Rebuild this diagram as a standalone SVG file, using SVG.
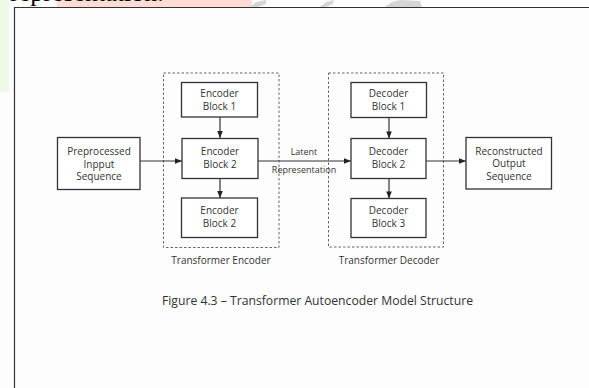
<svg xmlns="http://www.w3.org/2000/svg" width="589" height="388" viewBox="0 0 589 388">
  <defs>
    <marker id="arrow" viewBox="0 0 10 10" refX="10" refY="5" markerWidth="8" markerHeight="7" markerUnits="userSpaceOnUse" orient="auto">
      <path d="M0,1 L10,5 L0,9 z" fill="#222"/>
    </marker>
    <clipPath id="topclip"><rect x="0" y="0" width="589" height="7"/></clipPath>
  </defs>
  <style>
    .box { fill: #ffffff; stroke: #333; stroke-width: 1.3; }
    .group { fill: none; stroke: #666; stroke-width: 1; stroke-dasharray: 2.5 2; }
    .wire { fill: none; stroke: #333; stroke-width: 1.2; }
    .label { font-family: "Open Sans", "Noto Sans", sans-serif; font-size: 10px; fill: #333; text-anchor: middle; }
    .edge { font-family: "Open Sans", "Noto Sans", sans-serif; font-size: 9px; fill: #333; text-anchor: middle; }
    .cap { font-family: "Open Sans", "Noto Sans", sans-serif; font-size: 12.2px; fill: #333; text-anchor: middle; }
  </style>

  <!-- page background and highlight strips -->
  <rect x="0" y="0" width="589" height="388" fill="#fdfdfd"/>
  <rect x="0" y="0" width="9" height="92" fill="#eef9e6"/>
  <rect x="57" y="0" width="195" height="7" fill="#ffdcd4"/>
  <g fill="#cccccc" opacity="0.8">
    <polygon points="250,7 256,2 266,0 266,4 258,7"/>
    <polygon points="320,7 326,2 334,0 333,4 326,7"/>
    <polygon points="385,7 392,2 400,0 420,1 422,7"/>
  </g>
  <g clip-path="url(#topclip)">
    <text x="10" y="0.8" font-family="Liberation Serif, serif" font-size="26" fill="#000">representation.</text>
  </g>

  <!-- figure frame -->
  <path d="M14.5,388 V7.5 H589" fill="none" stroke="#333" stroke-width="1.2"/>

  <!-- dashed stage groups -->
  <g id="encoder-group">
    <rect class="group" x="163.5" y="73" width="115.5" height="174.5"/>
    <text class="label" x="221" y="264">Transformer Encoder</text>
  </g>
  <g id="decoder-group">
    <rect class="group" x="328.5" y="73" width="115" height="174"/>
    <text class="label" x="389" y="264">Transformer Decoder</text>
  </g>

  <!-- connectors -->
  <g id="connectors">
    <line class="wire" x1="140" y1="161" x2="182" y2="161" marker-end="url(#arrow)"/>
    <line class="wire" x1="220" y1="117" x2="220" y2="138" marker-end="url(#arrow)"/>
    <line class="wire" x1="220" y1="178.5" x2="220" y2="198" marker-end="url(#arrow)"/>
    <line class="wire" x1="258" y1="161" x2="351" y2="161" marker-end="url(#arrow)"/>
    <line class="wire" x1="389" y1="117.5" x2="389" y2="138.5" marker-end="url(#arrow)"/>
    <line class="wire" x1="389" y1="178.5" x2="389" y2="198.5" marker-end="url(#arrow)"/>
    <line class="wire" x1="426" y1="161" x2="466" y2="161" marker-end="url(#arrow)"/>
    <text class="edge" x="304" y="155">Latent</text>
    <text class="edge" x="304" y="173">Representation</text>
  </g>

  <!-- nodes -->
  <g id="input">
    <rect class="box" x="57.5" y="137.5" width="82.5" height="52"/>
    <text class="label" x="99" y="155">Preprocessed</text>
    <text class="label" x="99" y="167.5">Inpput</text>
    <text class="label" x="99" y="180">Sequence</text>
  </g>
  <g id="enc1">
    <rect class="box" x="181.5" y="82.5" width="76" height="34.5"/>
    <text class="label" x="219.5" y="97">Encoder</text>
    <text class="label" x="219.5" y="110">Block 1</text>
  </g>
  <g id="enc2">
    <rect class="box" x="182" y="138.5" width="76" height="40"/>
    <text class="label" x="220" y="154.5">Encoder</text>
    <text class="label" x="220" y="167.5">Block 2</text>
  </g>
  <g id="enc3">
    <rect class="box" x="181.5" y="198" width="76" height="39.5"/>
    <text class="label" x="219.5" y="214">Encoder</text>
    <text class="label" x="219.5" y="227">Block 2</text>
  </g>
  <g id="dec1">
    <rect class="box" x="351" y="82.5" width="75.5" height="35"/>
    <text class="label" x="388.5" y="97">Decoder</text>
    <text class="label" x="388.5" y="110">Block 1</text>
  </g>
  <g id="dec2">
    <rect class="box" x="351" y="138.5" width="75" height="40"/>
    <text class="label" x="388.5" y="154.5">Decoder</text>
    <text class="label" x="388.5" y="167.5">Block 2</text>
  </g>
  <g id="dec3">
    <rect class="box" x="351" y="198.5" width="75" height="39"/>
    <text class="label" x="388.5" y="214">Decoder</text>
    <text class="label" x="388.5" y="227">Block 3</text>
  </g>
  <g id="output">
    <rect class="box" x="466" y="137.5" width="85.5" height="51.5"/>
    <text class="label" x="509" y="154.5">Reconstructed</text>
    <text class="label" x="509" y="167">Output</text>
    <text class="label" x="509" y="179.5">Sequence</text>
  </g>

  <!-- caption -->
  <text class="cap" x="317.5" y="305">Figure 4.3 – Transformer Autoencoder Model Structure</text>
</svg>
